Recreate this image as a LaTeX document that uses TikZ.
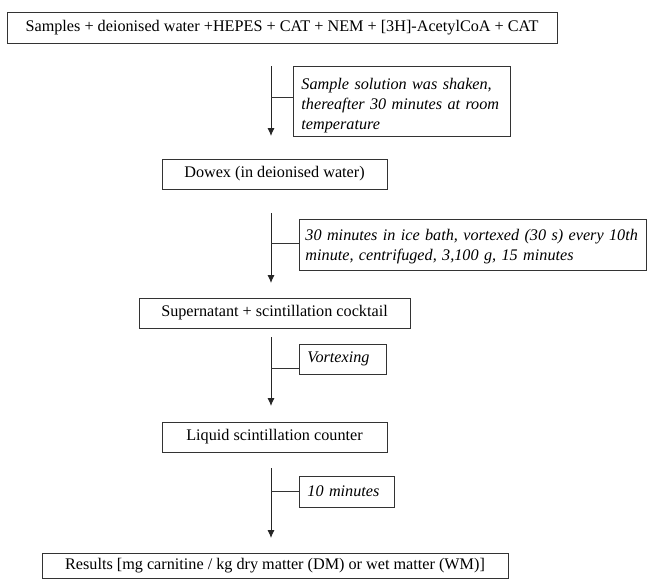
\documentclass[tikz,border=0pt]{standalone}
\usepackage{fontspec}
\setmainfont{Liberation Serif}
\usetikzlibrary{arrows.meta}
\newcommand\mainsize{\fontsize{16.2}{20}\selectfont}
\tikzset{
  mainbox/.style={draw=black!80, line width=0.9pt, inner sep=0pt, font=\mainsize},
  notebox/.style={draw=black!80, line width=0.9pt, inner xsep=8pt, inner ysep=0pt, align=left, anchor=west, font=\mainsize\itshape},
  flow/.style={draw=black!85, line width=0.9pt, -{Latex[length=8pt,width=7pt]}},
  tie/.style={draw=black!80, line width=0.9pt}
}
\begin{document}
\begin{tikzpicture}[x=1pt,y=1pt]
\useasboundingbox (0,0) rectangle (647,-579);

% main boxes
\node[mainbox, minimum width=550pt, minimum height=31pt] (n1) at (282,-27.5)
  {Samples + deionised water +HEPES + CAT + NEM + [3H]-AcetylCoA + CAT};
\node[mainbox, minimum width=225pt, minimum height=30pt] (n2) at (274.5,-174)
  {Dowex (in deionised water)};
\node[mainbox, minimum width=271pt, minimum height=30pt] (n3) at (274.5,-313)
  {Supernatant + scintillation cocktail};
\node[mainbox, minimum width=225pt, minimum height=30pt] (n4) at (274.5,-437)
  {Liquid scintillation counter};
\node[mainbox, minimum width=466pt, minimum height=25pt] (n5) at (275,-565.5)
  {Results [mg carnitine / kg dry matter (DM) or wet matter (WM)]};

% side notes
\node[notebox, text width=201pt, minimum height=70pt] (s1) at (293,-101)
  {\rule{0pt}{20pt}Sample solution was shaken,\\thereafter 30 minutes at room\\temperature};
\node[notebox, inner xsep=6pt, text width=335pt, minimum height=51pt] (s2) at (299,-244.5)
  {\rule{0pt}{16pt}\mbox{30 minutes in ice bath, vortexed (30 s) every 10th}\\\mbox{minute, centrifuged, 3,100 g, 15 minutes}};
\node[notebox, text width=71pt, minimum height=30pt] (s3) at (299,-359)
  {Vortexing};
\node[notebox, text width=79pt, minimum height=31pt] (s4) at (299,-491.5)
  {10 minutes};

% arrows
\coordinate (a1s) at (271,-66);  \coordinate (a1e) at (271,-136);
\coordinate (a2s) at (271,-213); \coordinate (a2e) at (271,-283);
\coordinate (a3s) at (271,-337); \coordinate (a3e) at (271,-406);
\coordinate (a4s) at (271,-468); \coordinate (a4e) at (271,-538);
\draw[flow] (a1s) -- (a1e);
\draw[flow] (a2s) -- (a2e);
\draw[flow] (a3s) -- (a3e);
\draw[flow] (a4s) -- (a4e);

% junctions
\coordinate (j1) at (271,-97);
\coordinate (j2) at (271,-243);
\coordinate (j3) at (271,-368);
\coordinate (j4) at (271,-491);
\draw[tie] (j1) -- (j1 -| s1.west);
\draw[tie] (j2) -- (j2 -| s2.west);
\draw[tie] (j3) -- (j3 -| s3.west);
\draw[tie] (j4) -- (j4 -| s4.west);
\end{tikzpicture}
\end{document}
